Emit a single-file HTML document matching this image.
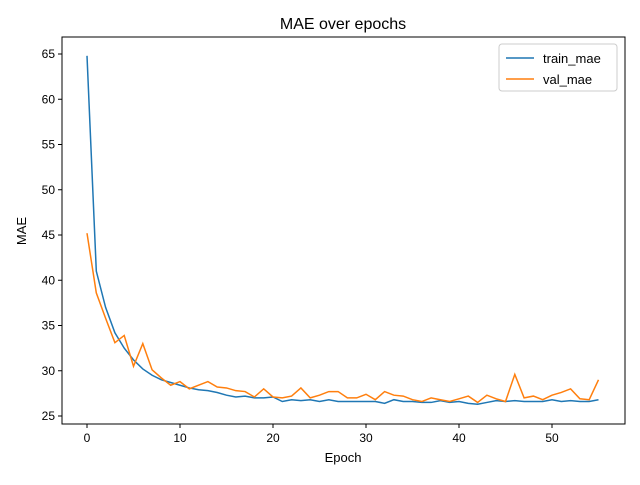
<!DOCTYPE html>
<html><head><meta charset="utf-8"><style>body{margin:0;background:#fff}svg{font-family:"Liberation Sans","DejaVu Sans",sans-serif}</style></head>
<body>
<svg id="c" width="640" height="480" xmlns="http://www.w3.org/2000/svg">
<text x="343" y="29" text-anchor="middle" font-size="16">MAE over epochs</text>
<text x="343" y="462" text-anchor="middle" font-size="13">Epoch</text>
<text x="26" y="231" text-anchor="middle" font-size="13" transform="rotate(-90 26 231)">MAE</text>
<g id="ticks"></g>
<g id="lines"></g>
<rect x="62" y="37" width="563" height="387" fill="none" stroke="#000" stroke-width="1"/>
<g>
<rect x="499" y="44" width="118" height="47" rx="3" fill="#fff" stroke="#ccc"/>
<line x1="506" y1="58" x2="534" y2="58" stroke="#1f77b4" stroke-width="1.5"/>
<text x="543" y="63" font-size="13">train_mae</text>
<line x1="506" y1="79" x2="534" y2="79" stroke="#ff7f0e" stroke-width="1.5"/>
<text x="543" y="84" font-size="13">val_mae</text>
</g>
</svg>
<script>
const trainMae=[64.8,41,37,34.2,32.5,31.2,30.2,29.5,29,28.7,28.4,28.1,27.9,27.8,27.6,27.3,27.1,27.2,27.0,27.0,27.1,26.6,26.8,26.7,26.8,26.6,26.8,26.6,26.6,26.6,26.6,26.6,26.4,26.8,26.6,26.6,26.5,26.5,26.7,26.5,26.6,26.4,26.3,26.5,26.7,26.6,26.7,26.6,26.6,26.6,26.8,26.6,26.7,26.6,26.6,26.8];
const valMae=[45.2,38.6,35.8,33.1,33.9,30.5,33.0,30.1,29.2,28.4,28.8,28.0,28.4,28.8,28.2,28.1,27.8,27.7,27.1,28.0,27.1,27.0,27.2,28.1,27.0,27.3,27.7,27.7,27.0,27.0,27.4,26.8,27.7,27.3,27.2,26.8,26.6,27.0,26.8,26.6,26.9,27.2,26.5,27.3,26.9,26.6,29.6,27.0,27.2,26.8,27.3,27.6,28.0,26.9,26.8,29.0];
const xTicks=[0,10,20,30,40,50];
const yTicks=[25,30,35,40,45,50,55,60,65];
const NS="http://www.w3.org/2000/svg";
const X=v=>87+v*9.3, Y=v=>416-(v-25)*9.05;
const tg=document.getElementById('ticks'), lg=document.getElementById('lines');
function mk(tag,at,p){const e=document.createElementNS(NS,tag);for(const k in at)e.setAttribute(k,at[k]);p.appendChild(e);return e;}
xTicks.forEach(t=>{
 const l=mk('line',{x1:X(t),x2:X(t),y1:424,y2:428,stroke:'#000'},tg);
 
 
 const s=mk('text',{x:X(t),y:442,'text-anchor':'middle','font-size':12},tg);s.textContent=t;
 
 
});
yTicks.forEach(t=>{
 const l=mk('line',{x1:58,x2:62,y1:Y(t),y2:Y(t),stroke:'#000'},tg);
 
 
 const s=mk('text',{x:55,y:Y(t)+4,'text-anchor':'end','font-size':12},tg);s.textContent=t;
 
 
});
[[trainMae,'#1f77b4','train-mae-line'],[valMae,'#ff7f0e','val-mae-line']].forEach(([d,c,n])=>{
 const p=mk('polyline',{points:d.map((v,i)=>X(i)+','+Y(v)).join(' '),fill:'none',stroke:c,'stroke-width':1.5},lg);
 
 
});
</script>
</body></html>
